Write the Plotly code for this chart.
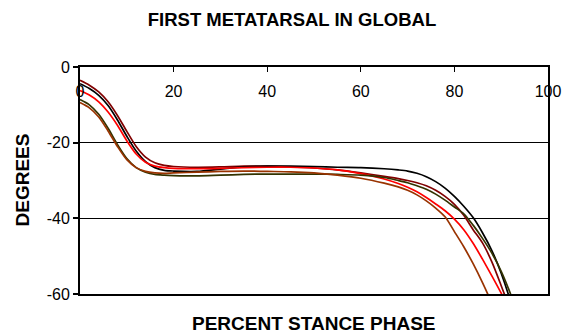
import plotly.graph_objects as go

# percent stance phase sample points
stance = [0, 2, 4, 6, 8, 10, 12, 14, 16, 18, 20, 25, 30, 35, 40, 45, 50, 55, 60,
          65, 68, 70, 72, 74, 76, 78, 80, 82, 84, 86, 88, 90, 92, 94]

trial_maroon = [-3.5, -4.8, -6.6, -9.2, -12.8, -17.0, -21.0, -23.8, -25.3, -26.0, -26.3,
                -26.5, -26.4, -26.2, -26.2, -26.4, -26.7, -27.2, -28.0,
                -28.9, -29.5, -30.0, -30.6, -31.4, -32.6, -34.2, -36.3, -39.2, -43.0, -46.5, -51.5, -57.8, -64.5, -72.0]

trial_black = [-4.4, -5.7, -7.5, -10.2, -14.0, -18.3, -22.2, -25.0, -26.6, -27.3, -27.5,
               -27.6, -27.0, -26.4, -26.2, -26.2, -26.3, -26.5, -26.6,
               -26.9, -27.2, -27.5, -28.1, -29.0, -30.3, -32.0, -34.2, -36.8, -39.8, -43.8, -48.5, -54.5, -62.0, -71.0]

trial_red = [-6.2, -7.4, -9.2, -11.9, -15.4, -19.5, -23.0, -25.2, -26.2, -26.6, -26.8,
             -26.9, -26.8, -26.6, -26.5, -26.5, -26.7, -27.2, -28.2,
             -29.6, -30.8, -31.8, -33.0, -34.5, -36.2, -38.0, -40.2, -43.0, -46.6, -50.8, -55.2, -59.8, -65.0, -71.0]

trial_olive = [-8.6, -10.0, -12.5, -16.2, -20.5, -24.2, -26.6, -27.8, -28.4, -28.6, -28.7,
               -28.8, -28.6, -28.4, -28.3, -28.3, -28.3, -28.4, -28.6,
               -29.2, -30.0, -30.6, -31.4, -32.3, -33.6, -35.2, -37.0, -38.8, -41.8, -45.3, -49.2, -54.0, -60.0, -67.0]

trial_brown = [-9.4, -10.8, -13.2, -16.9, -21.0, -24.5, -26.6, -27.6, -28.0, -28.1, -28.0,
               -27.8, -27.6, -27.5, -27.6, -27.7, -28.0, -28.6, -29.4,
               -30.7, -31.7, -32.6, -33.8, -35.4, -37.3, -39.6, -43.5, -47.5, -52.0, -57.0, -62.5, -69.0, -76.0, -84.0]

series = [
    ("Trial 1", trial_maroon, "#800000"),
    ("Trial 2", trial_black, "#000000"),
    ("Trial 3", trial_red, "#FF0000"),
    ("Trial 4", trial_olive, "#333300"),
    ("Trial 5", trial_brown, "#993300"),
]

x_ticks = [0, 20, 40, 60, 80, 100]
x_tick_labels = ["0", "20", "40", "60", "80", "100"]
y_ticks = [0, -20, -40, -60]
y_tick_labels = ["0", "-20", "-40", "-60"]

fig = go.Figure()
for name, vals, col in series:
    fig.add_trace(go.Scatter(x=stance, y=vals, mode="lines", name=name,
                             line=dict(color=col, width=1.7, shape="spline", smoothing=0.8)))

FONT = "Liberation Sans, Arial, sans-serif"
fig.update_layout(
    width=564, height=333,
    margin=dict(l=80, r=16, t=67, b=39),
    paper_bgcolor="white", plot_bgcolor="white",
    showlegend=False,
    font=dict(family=FONT, color="black"),
    title=dict(text="<b>FIRST METATARSAL IN GLOBAL</b>", x=292/564, xanchor="center",
               y=1 - 20/333, yanchor="middle", font=dict(size=18.5, family=FONT, color="black")),
    xaxis=dict(range=[0, 100], side="top", tickvals=x_ticks, ticktext=x_tick_labels,
               ticks="inside", ticklen=5,
               tickcolor="black", tickwidth=1, ticklabelposition="inside", ticklabelstandoff=14,
               ticklabeloverflow="allow", automargin=False,
               tickfont=dict(size=16, family=FONT, color="black"),
               showline=True, linecolor="black", linewidth=1.5, mirror=True,
               showgrid=False, zeroline=False),
    yaxis=dict(range=[-60, 0], tickvals=y_ticks, ticktext=y_tick_labels,
               ticks="outside", ticklen=5, automargin=False, ticklabeloverflow="allow",
               tickcolor="black", tickwidth=1.5,
               tickfont=dict(size=16, family=FONT, color="black"),
               showline=True, linecolor="black", linewidth=2, mirror=True,
               showgrid=True, gridcolor="black", gridwidth=1, zeroline=False),
    annotations=[
        dict(text="<b>PERCENT STANCE PHASE</b>", xref="paper", yref="paper",
             x=0.5, y=-(323 - 293.7) / 227, xanchor="center", yanchor="middle",
             showarrow=False, font=dict(size=19, family=FONT, color="black")),
        dict(text="<b>DEGREES</b>", xref="paper", yref="paper",
             x=(22 - 80) / 468, y=0.5, xanchor="center", yanchor="middle", textangle=-90,
             showarrow=False, font=dict(size=19, family=FONT, color="black")),
    ],
)

fig.write_html("out.html", config={"displayModeBar": False},
               post_script="document.body.style.margin='0';document.body.style.overflow='hidden';")
